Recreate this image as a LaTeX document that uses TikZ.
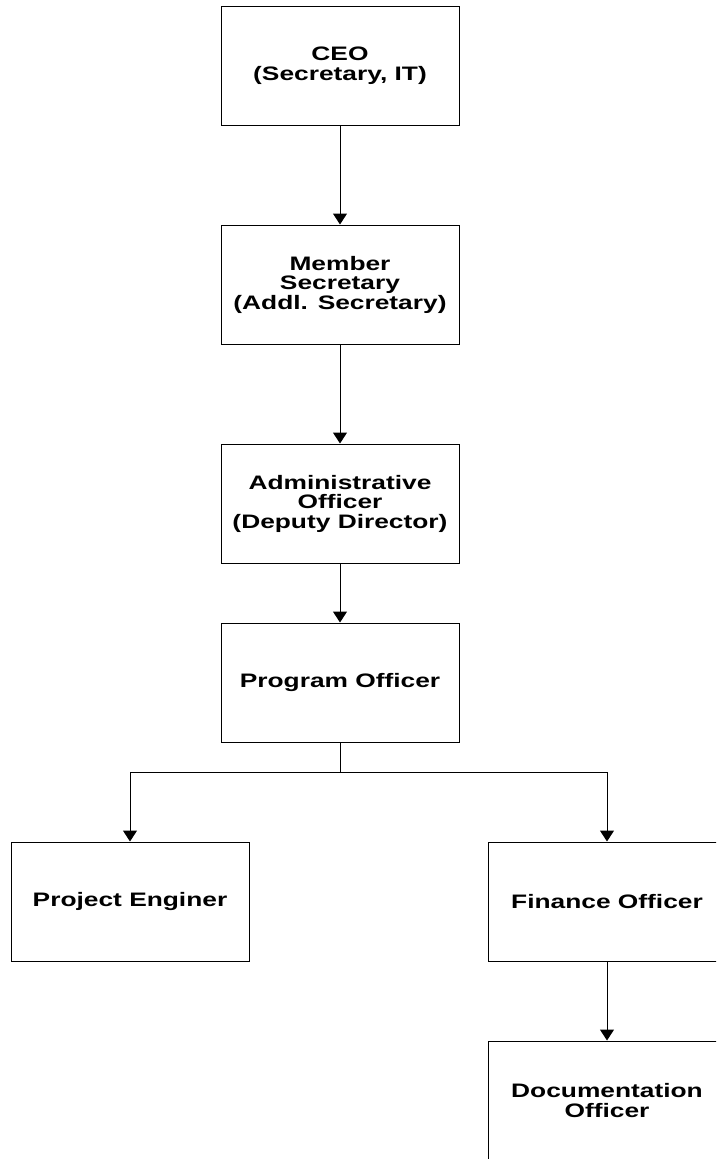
\documentclass[tikz,border=0pt]{standalone}
\usepackage{fontspec}
\setmainfont{Liberation Sans}[FakeStretch=1.35]
\usetikzlibrary{arrows.meta}
\begin{document}
\begin{tikzpicture}[x=1pt,y=-1pt,
  orgbox/.style={draw=black, line width=1pt, rectangle, minimum width=238pt, minimum height=119pt,
    inner sep=0pt, align=center, font=\fontsize{19.5}{19.5}\selectfont\bfseries},
  link/.style={draw=black, line width=1pt},
  arr/.style={link, -{Triangle[width=14pt,length=11pt]}}]
\useasboundingbox (0,0) rectangle (716,1159);
\clip (0,0) rectangle (716,1159);
\fill[white] (0,0) rectangle (716,1159);
\node[orgbox] (ceo) at (340,65.5) {CEO\\(Secretary, IT)};
\node[orgbox] (ms) at (340,284.5) {Member\\Secretary\\(Addl. Secretary)};
\node[orgbox] (ao) at (340,503.5) {Administrative\\Officer\\(Deputy Director)};
\node[orgbox] (po) at (340,682.5) {Program Officer};
\node[orgbox] (pe) at (130,901.5) {Project Enginer};
\node[orgbox] (fo) at (607,901.5) {Finance Officer};
\node[orgbox] (do) at (607,1100.5) {Documentation\\Officer};
\coordinate (br) at (340,772);
\draw[arr] (ceo) -- (ms);
\draw[arr] (ms) -- (ao);
\draw[arr] (ao) -- (po);
\draw[link] (po.south) -- (br);
\draw[arr] (br) -| (pe.north);
\draw[arr] (br) -| (fo.north);
\draw[arr] (fo) -- (do);
\end{tikzpicture}
\end{document}
